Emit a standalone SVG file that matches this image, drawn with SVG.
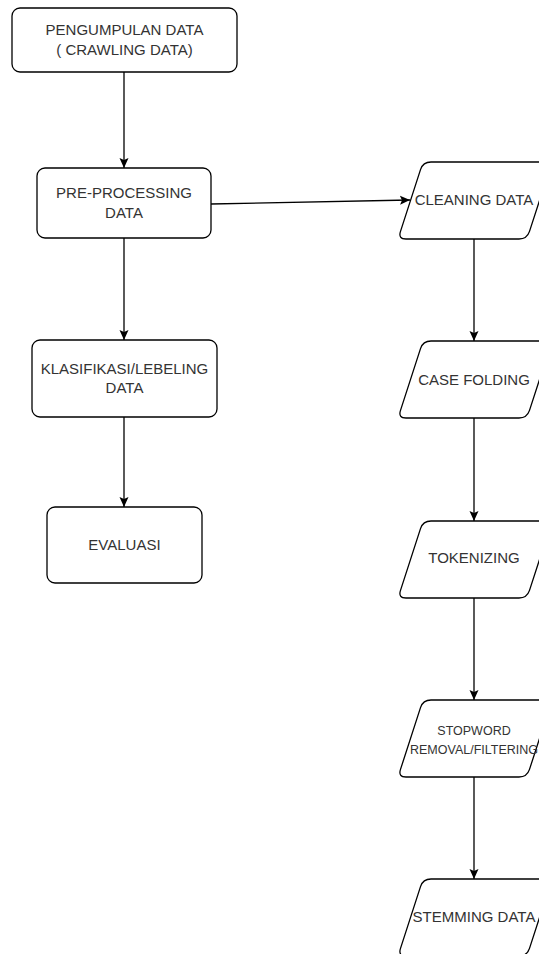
<svg xmlns="http://www.w3.org/2000/svg" width="539" height="954" viewBox="0 0 539 954">
<style>
.box{fill:#fff;stroke:#000;stroke-width:1.3}
.t{font-family:"Liberation Sans",Arial,sans-serif;font-size:15px;fill:#333;text-anchor:middle}
.ts{font-family:"Liberation Sans",Arial,sans-serif;font-size:12.5px;fill:#333;text-anchor:middle}
.e{stroke:#000;stroke-width:1.3;fill:none;marker-end:url(#arr)}
</style>
<defs>
<marker id="arr" markerUnits="userSpaceOnUse" markerWidth="10" markerHeight="10" refX="10" refY="5" orient="auto">
<path d="M0,0.5 L10,5 L0,9.5 L2,5 Z" fill="#000"/>
</marker>
<path id="para" d="M33,0 L146,0 Q154,0 151.5,7.6 L131.5,69.4 Q129,77 121,77 L8,77 Q0,77 2.5,69.4 L22.5,7.6 Q25,0 33,0 Z"/>
</defs>
<rect width="539" height="954" fill="#fff"/>
<g id="edges">
<line class="e" x1="124" y1="72" x2="124" y2="168"/>
<line class="e" x1="211" y1="204" x2="410" y2="200"/>
<line class="e" x1="124" y1="238" x2="124" y2="340"/>
<line class="e" x1="124" y1="417" x2="124" y2="507"/>
<line class="e" x1="474" y1="239" x2="474" y2="341"/>
<line class="e" x1="474" y1="418" x2="474" y2="521"/>
<line class="e" x1="474" y1="598" x2="474" y2="700"/>
<line class="e" x1="474" y1="777" x2="474" y2="879"/>
</g>
<g id="pengumpulan">
<rect class="box" x="12" y="8" width="225" height="64" rx="8"/>
<text class="t" x="124.5" y="35">PENGUMPULAN DATA</text>
<text class="t" x="124.5" y="55">( CRAWLING DATA)</text>
</g>
<g id="preprocessing">
<rect class="box" x="37" y="168" width="174" height="70" rx="8"/>
<text class="t" x="124" y="198">PRE-PROCESSING</text>
<text class="t" x="124" y="218">DATA</text>
</g>
<g id="klasifikasi">
<rect class="box" x="32" y="340" width="185" height="77" rx="8"/>
<text class="t" x="124.5" y="374">KLASIFIKASI/LEBELING</text>
<text class="t" x="124.5" y="393">DATA</text>
</g>
<g id="evaluasi">
<rect class="box" x="47" y="507" width="155" height="76" rx="8"/>
<text class="t" x="124.5" y="550">EVALUASI</text>
</g>
<g id="cleaning">
<use href="#para" class="box" transform="translate(398,162)"/>
<text class="t" x="474" y="205">CLEANING DATA</text>
</g>
<g id="casefolding">
<use href="#para" class="box" transform="translate(398,341)"/>
<text class="t" x="474" y="385">CASE FOLDING</text>
</g>
<g id="tokenizing">
<use href="#para" class="box" transform="translate(398,521)"/>
<text class="t" x="474" y="563">TOKENIZING</text>
</g>
<g id="stopword">
<use href="#para" class="box" transform="translate(398,700)"/>
<text class="ts" x="474" y="734.5">STOPWORD</text>
<text class="ts" x="474" y="753.5">REMOVAL/FILTERING</text>
</g>
<g id="stemming">
<use href="#para" class="box" transform="translate(398,879)"/>
<text class="t" x="474" y="922">STEMMING DATA</text>
</g>
</svg>
